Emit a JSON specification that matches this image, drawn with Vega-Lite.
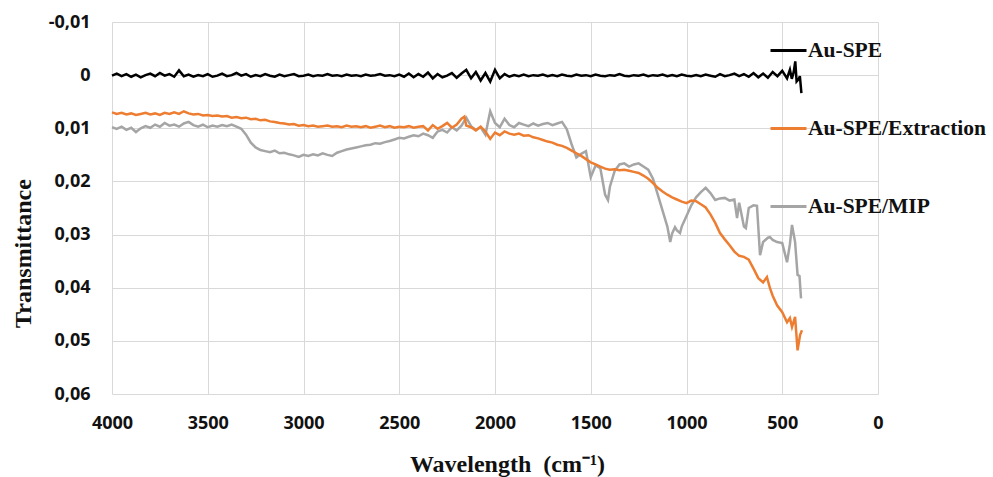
{
  "$schema": "https://vega.github.io/schema/vega-lite/v6.json",
  "autosize": {"type": "none"},
  "padding": {"left": 112, "top": 22, "right": 115, "bottom": 83},
  "width": 766,
  "height": 372,
  "background": "white",
  "config": {
    "view": {"stroke": null},
    "axis": {"grid": true, "gridColor": "#d9d9d9", "gridWidth": 1, "domain": false, "ticks": false,
      "labelFont": "Open Sans", "labelFontWeight": "bold", "labelFontSize": 18, "labelColor": "#111111", "labelFlush": false,
      "titleFont": "Liberation Serif", "titleFontWeight": "bold", "titleColor": "#111111"}
  },
  "datasets": {
    "spe": [
      {"w":4000,"t":0.0001},{"w":3975,"t":-0.0003},{"w":3950,"t":0.0002},{"w":3925,"t":-0.0002},{"w":3900,"t":0.0003},{"w":3875,"t":-0.0001},{"w":3850,"t":0.0004},{"w":3825,"t":0.0000},{"w":3800,"t":-0.0003},{"w":3775,"t":0.0002},{"w":3750,"t":-0.0004},{"w":3725,"t":0.0001},{"w":3700,"t":-0.0002},{"w":3675,"t":0.0003},{"w":3650,"t":-0.0009},{"w":3625,"t":0.0002},{"w":3600,"t":-0.0001},{"w":3575,"t":0.0003},{"w":3550,"t":0.0000},{"w":3525,"t":0.0002},{"w":3500,"t":-0.0002},{"w":3475,"t":0.0003},{"w":3450,"t":0.0001},{"w":3425,"t":-0.0003},{"w":3400,"t":0.0002},{"w":3375,"t":0.0000},{"w":3350,"t":-0.0004},{"w":3325,"t":0.0001},{"w":3300,"t":-0.0002},{"w":3275,"t":0.0003},{"w":3250,"t":0.0000},{"w":3225,"t":0.0002},{"w":3200,"t":-0.0002},{"w":3175,"t":0.0001},{"w":3150,"t":0.0003},{"w":3125,"t":-0.0001},{"w":3100,"t":0.0002},{"w":3075,"t":0.0000},{"w":3050,"t":-0.0002},{"w":3025,"t":0.0002},{"w":3000,"t":0.0001},{"w":2975,"t":-0.0001},{"w":2950,"t":0.0002},{"w":2925,"t":0.0000},{"w":2900,"t":0.0001},{"w":2875,"t":-0.0002},{"w":2850,"t":0.0001},{"w":2825,"t":0.0000},{"w":2800,"t":0.0002},{"w":2775,"t":-0.0001},{"w":2750,"t":0.0001},{"w":2725,"t":0.0000},{"w":2700,"t":0.0002},{"w":2675,"t":-0.0001},{"w":2650,"t":0.0001},{"w":2625,"t":0.0000},{"w":2600,"t":-0.0002},{"w":2575,"t":0.0001},{"w":2550,"t":0.0000},{"w":2525,"t":0.0002},{"w":2500,"t":-0.0001},{"w":2475,"t":0.0003},{"w":2450,"t":-0.0003},{"w":2425,"t":0.0004},{"w":2400,"t":-0.0002},{"w":2375,"t":0.0003},{"w":2350,"t":-0.0005},{"w":2325,"t":0.0006},{"w":2300,"t":-0.0002},{"w":2275,"t":0.0004},{"w":2250,"t":0.0001},{"w":2225,"t":-0.0004},{"w":2200,"t":0.0005},{"w":2175,"t":-0.0003},{"w":2150,"t":-0.0010},{"w":2125,"t":0.0006},{"w":2100,"t":-0.0006},{"w":2075,"t":0.0010},{"w":2050,"t":-0.0004},{"w":2025,"t":0.0012},{"w":2000,"t":-0.0010},{"w":1975,"t":0.0006},{"w":1950,"t":-0.0002},{"w":1925,"t":0.0003},{"w":1900,"t":0.0000},{"w":1875,"t":0.0002},{"w":1850,"t":-0.0001},{"w":1825,"t":0.0002},{"w":1800,"t":0.0000},{"w":1775,"t":0.0001},{"w":1750,"t":-0.0001},{"w":1725,"t":0.0002},{"w":1700,"t":0.0000},{"w":1675,"t":0.0002},{"w":1650,"t":-0.0001},{"w":1625,"t":0.0001},{"w":1600,"t":0.0002},{"w":1575,"t":-0.0001},{"w":1550,"t":0.0001},{"w":1525,"t":0.0000},{"w":1500,"t":0.0002},{"w":1475,"t":-0.0001},{"w":1450,"t":0.0001},{"w":1425,"t":0.0002},{"w":1400,"t":0.0000},{"w":1375,"t":0.0001},{"w":1350,"t":-0.0002},{"w":1325,"t":0.0001},{"w":1300,"t":0.0002},{"w":1275,"t":0.0000},{"w":1250,"t":0.0001},{"w":1225,"t":-0.0001},{"w":1200,"t":0.0002},{"w":1175,"t":0.0000},{"w":1150,"t":0.0001},{"w":1125,"t":-0.0001},{"w":1100,"t":0.0002},{"w":1075,"t":0.0000},{"w":1050,"t":0.0002},{"w":1025,"t":-0.0001},{"w":1000,"t":0.0001},{"w":975,"t":0.0002},{"w":950,"t":0.0000},{"w":925,"t":0.0002},{"w":900,"t":-0.0001},{"w":875,"t":0.0001},{"w":850,"t":0.0003},{"w":825,"t":-0.0002},{"w":800,"t":0.0002},{"w":775,"t":0.0000},{"w":750,"t":-0.0003},{"w":725,"t":0.0002},{"w":700,"t":-0.0002},{"w":675,"t":0.0003},{"w":650,"t":-0.0004},{"w":625,"t":0.0004},{"w":600,"t":-0.0003},{"w":575,"t":0.0005},{"w":550,"t":-0.0006},{"w":525,"t":0.0002},{"w":500,"t":-0.0008},{"w":475,"t":0.0006},{"w":460,"t":-0.0010},{"w":450,"t":0.0007},{"w":440,"t":-0.0006},{"w":432,"t":-0.0026},{"w":425,"t":0.0012},{"w":415,"t":0.0008},{"w":408,"t":0.0002},{"w":400,"t":0.0034}
    ],
    "ext": [
      {"w":4000,"t":0.0070},{"w":3975,"t":0.0073},{"w":3950,"t":0.0071},{"w":3925,"t":0.0074},{"w":3900,"t":0.0072},{"w":3875,"t":0.0075},{"w":3850,"t":0.0073},{"w":3825,"t":0.0071},{"w":3800,"t":0.0074},{"w":3775,"t":0.0072},{"w":3750,"t":0.0075},{"w":3725,"t":0.0071},{"w":3700,"t":0.0073},{"w":3675,"t":0.0070},{"w":3650,"t":0.0073},{"w":3625,"t":0.0068},{"w":3600,"t":0.0072},{"w":3575,"t":0.0074},{"w":3550,"t":0.0073},{"w":3525,"t":0.0076},{"w":3500,"t":0.0075},{"w":3475,"t":0.0077},{"w":3450,"t":0.0076},{"w":3425,"t":0.0078},{"w":3400,"t":0.0077},{"w":3375,"t":0.0080},{"w":3350,"t":0.0079},{"w":3325,"t":0.0081},{"w":3300,"t":0.0080},{"w":3275,"t":0.0083},{"w":3250,"t":0.0082},{"w":3225,"t":0.0085},{"w":3200,"t":0.0084},{"w":3175,"t":0.0087},{"w":3150,"t":0.0088},{"w":3125,"t":0.0090},{"w":3100,"t":0.0091},{"w":3075,"t":0.0093},{"w":3050,"t":0.0092},{"w":3025,"t":0.0095},{"w":3000,"t":0.0094},{"w":2975,"t":0.0096},{"w":2950,"t":0.0095},{"w":2925,"t":0.0097},{"w":2900,"t":0.0096},{"w":2875,"t":0.0095},{"w":2850,"t":0.0097},{"w":2825,"t":0.0096},{"w":2800,"t":0.0098},{"w":2775,"t":0.0095},{"w":2750,"t":0.0097},{"w":2725,"t":0.0096},{"w":2700,"t":0.0098},{"w":2675,"t":0.0096},{"w":2650,"t":0.0099},{"w":2625,"t":0.0097},{"w":2600,"t":0.0095},{"w":2575,"t":0.0098},{"w":2550,"t":0.0096},{"w":2525,"t":0.0099},{"w":2500,"t":0.0097},{"w":2475,"t":0.0098},{"w":2450,"t":0.0096},{"w":2425,"t":0.0099},{"w":2400,"t":0.0097},{"w":2375,"t":0.0096},{"w":2350,"t":0.0104},{"w":2325,"t":0.0094},{"w":2300,"t":0.0101},{"w":2275,"t":0.0096},{"w":2250,"t":0.0090},{"w":2225,"t":0.0099},{"w":2200,"t":0.0093},{"w":2175,"t":0.0082},{"w":2160,"t":0.0078},{"w":2150,"t":0.0095},{"w":2125,"t":0.0098},{"w":2100,"t":0.0104},{"w":2075,"t":0.0097},{"w":2050,"t":0.0106},{"w":2025,"t":0.0120},{"w":2000,"t":0.0108},{"w":1975,"t":0.0113},{"w":1950,"t":0.0106},{"w":1925,"t":0.0110},{"w":1900,"t":0.0112},{"w":1875,"t":0.0110},{"w":1850,"t":0.0114},{"w":1825,"t":0.0113},{"w":1800,"t":0.0117},{"w":1775,"t":0.0119},{"w":1750,"t":0.0122},{"w":1725,"t":0.0125},{"w":1700,"t":0.0127},{"w":1675,"t":0.0131},{"w":1650,"t":0.0133},{"w":1625,"t":0.0137},{"w":1600,"t":0.0142},{"w":1575,"t":0.0147},{"w":1550,"t":0.0152},{"w":1525,"t":0.0158},{"w":1500,"t":0.0164},{"w":1475,"t":0.0168},{"w":1450,"t":0.0172},{"w":1425,"t":0.0176},{"w":1400,"t":0.0178},{"w":1375,"t":0.0177},{"w":1350,"t":0.0179},{"w":1325,"t":0.0178},{"w":1300,"t":0.0180},{"w":1275,"t":0.0182},{"w":1250,"t":0.0184},{"w":1225,"t":0.0189},{"w":1200,"t":0.0195},{"w":1175,"t":0.0203},{"w":1150,"t":0.0212},{"w":1125,"t":0.0219},{"w":1100,"t":0.0225},{"w":1075,"t":0.0230},{"w":1050,"t":0.0234},{"w":1025,"t":0.0238},{"w":1000,"t":0.0241},{"w":975,"t":0.0236},{"w":950,"t":0.0237},{"w":925,"t":0.0243},{"w":900,"t":0.0249},{"w":875,"t":0.0262},{"w":850,"t":0.0278},{"w":825,"t":0.0297},{"w":800,"t":0.0309},{"w":775,"t":0.0320},{"w":750,"t":0.0332},{"w":725,"t":0.0340},{"w":700,"t":0.0342},{"w":675,"t":0.0347},{"w":650,"t":0.0364},{"w":625,"t":0.0382},{"w":600,"t":0.0390},{"w":580,"t":0.0380},{"w":564,"t":0.0401},{"w":550,"t":0.0415},{"w":527,"t":0.0433},{"w":500,"t":0.0446},{"w":475,"t":0.0465},{"w":460,"t":0.0457},{"w":449,"t":0.0474},{"w":433,"t":0.0455},{"w":420,"t":0.0518},{"w":407,"t":0.0489},{"w":397,"t":0.0480}
    ],
    "mip": [
      {"w":4000,"t":0.0098},{"w":3975,"t":0.0101},{"w":3950,"t":0.0097},{"w":3925,"t":0.0103},{"w":3900,"t":0.0099},{"w":3875,"t":0.0107},{"w":3850,"t":0.0100},{"w":3825,"t":0.0096},{"w":3800,"t":0.0099},{"w":3775,"t":0.0093},{"w":3750,"t":0.0097},{"w":3725,"t":0.0090},{"w":3700,"t":0.0095},{"w":3675,"t":0.0093},{"w":3650,"t":0.0097},{"w":3625,"t":0.0091},{"w":3600,"t":0.0088},{"w":3575,"t":0.0094},{"w":3550,"t":0.0097},{"w":3525,"t":0.0093},{"w":3500,"t":0.0098},{"w":3475,"t":0.0095},{"w":3450,"t":0.0097},{"w":3425,"t":0.0094},{"w":3400,"t":0.0096},{"w":3375,"t":0.0093},{"w":3350,"t":0.0097},{"w":3325,"t":0.0101},{"w":3300,"t":0.0112},{"w":3275,"t":0.0127},{"w":3250,"t":0.0136},{"w":3225,"t":0.0141},{"w":3200,"t":0.0143},{"w":3175,"t":0.0145},{"w":3150,"t":0.0142},{"w":3125,"t":0.0147},{"w":3100,"t":0.0146},{"w":3075,"t":0.0149},{"w":3050,"t":0.0151},{"w":3025,"t":0.0154},{"w":3000,"t":0.0150},{"w":2975,"t":0.0152},{"w":2950,"t":0.0149},{"w":2925,"t":0.0151},{"w":2900,"t":0.0147},{"w":2875,"t":0.0150},{"w":2850,"t":0.0152},{"w":2825,"t":0.0146},{"w":2800,"t":0.0143},{"w":2775,"t":0.0140},{"w":2750,"t":0.0138},{"w":2725,"t":0.0136},{"w":2700,"t":0.0134},{"w":2675,"t":0.0132},{"w":2650,"t":0.0131},{"w":2625,"t":0.0128},{"w":2600,"t":0.0129},{"w":2575,"t":0.0126},{"w":2550,"t":0.0124},{"w":2525,"t":0.0121},{"w":2500,"t":0.0118},{"w":2475,"t":0.0119},{"w":2450,"t":0.0116},{"w":2425,"t":0.0113},{"w":2400,"t":0.0115},{"w":2375,"t":0.0110},{"w":2350,"t":0.0113},{"w":2325,"t":0.0118},{"w":2300,"t":0.0106},{"w":2275,"t":0.0103},{"w":2250,"t":0.0108},{"w":2225,"t":0.0098},{"w":2200,"t":0.0104},{"w":2175,"t":0.0095},{"w":2150,"t":0.0080},{"w":2125,"t":0.0096},{"w":2100,"t":0.0103},{"w":2075,"t":0.0098},{"w":2050,"t":0.0112},{"w":2025,"t":0.0068},{"w":2000,"t":0.0090},{"w":1975,"t":0.0098},{"w":1950,"t":0.0082},{"w":1925,"t":0.0094},{"w":1900,"t":0.0098},{"w":1875,"t":0.0090},{"w":1850,"t":0.0093},{"w":1825,"t":0.0096},{"w":1800,"t":0.0091},{"w":1775,"t":0.0095},{"w":1750,"t":0.0092},{"w":1725,"t":0.0090},{"w":1700,"t":0.0094},{"w":1675,"t":0.0091},{"w":1650,"t":0.0088},{"w":1625,"t":0.0102},{"w":1600,"t":0.0130},{"w":1575,"t":0.0155},{"w":1550,"t":0.0148},{"w":1525,"t":0.0143},{"w":1500,"t":0.0192},{"w":1475,"t":0.0170},{"w":1450,"t":0.0175},{"w":1425,"t":0.0225},{"w":1410,"t":0.0235},{"w":1400,"t":0.0210},{"w":1375,"t":0.0180},{"w":1350,"t":0.0168},{"w":1325,"t":0.0166},{"w":1300,"t":0.0172},{"w":1275,"t":0.0168},{"w":1250,"t":0.0166},{"w":1225,"t":0.0172},{"w":1200,"t":0.0178},{"w":1175,"t":0.0195},{"w":1150,"t":0.0225},{"w":1125,"t":0.0255},{"w":1100,"t":0.0285},{"w":1085,"t":0.0314},{"w":1075,"t":0.0298},{"w":1060,"t":0.0286},{"w":1050,"t":0.0292},{"w":1034,"t":0.0297},{"w":1025,"t":0.0285},{"w":1000,"t":0.0265},{"w":975,"t":0.0245},{"w":950,"t":0.0230},{"w":925,"t":0.0220},{"w":900,"t":0.0212},{"w":875,"t":0.0222},{"w":850,"t":0.0235},{"w":825,"t":0.0232},{"w":800,"t":0.0231},{"w":775,"t":0.0236},{"w":750,"t":0.0234},{"w":736,"t":0.0269},{"w":725,"t":0.0240},{"w":700,"t":0.0285},{"w":690,"t":0.0288},{"w":675,"t":0.0250},{"w":650,"t":0.0245},{"w":632,"t":0.0246},{"w":616,"t":0.0339},{"w":600,"t":0.0314},{"w":575,"t":0.0306},{"w":564,"t":0.0305},{"w":550,"t":0.0310},{"w":527,"t":0.0314},{"w":500,"t":0.0316},{"w":475,"t":0.0352},{"w":460,"t":0.0318},{"w":449,"t":0.0282},{"w":433,"t":0.0314},{"w":420,"t":0.0376},{"w":410,"t":0.0378},{"w":402,"t":0.0420}
    ]
  },
  "encoding": {
    "x": {"field": "w", "type": "quantitative",
      "scale": {"domain": [0, 4000], "reverse": true, "zero": false, "nice": false},
      "axis": {"values": [0, 500, 1000, 1500, 2000, 2500, 3000, 3500, 4000], "format": "d", "labelPadding": 20,
        "title": "Wavelength\u00a0 (cm\u207b\u00b9)", "titleFontSize": 24, "titleBaseline": "alphabetic", "titleY": 77, "titleX": 395}},
    "y": {"field": "t", "type": "quantitative",
      "scale": {"domain": [-0.01, 0.06], "reverse": true, "zero": false, "nice": false},
      "axis": {"values": [-0.01, 0, 0.01, 0.02, 0.03, 0.04, 0.05, 0.06],
        "labelExpr": "datum.value == 0 ? '0' : (datum.value < 0 ? '-' : '') + replace(format(abs(datum.value), '.2f'), '.', ',')",
        "labelPadding": 22, "title": "Transmittance", "titleFontSize": 24, "titleAngle": -90, "titleBaseline": "alphabetic", "titleX": -82, "titleY": 231}},
    "color": {"scale": {"domain": ["Au-SPE", "Au-SPE/Extraction", "Au-SPE/MIP"], "range": ["#000000", "#ED7D31", "#A5A5A5"]},
      "legend": {"orient": "none", "legendX": 657, "legendY": 9, "title": null, "padding": 0,
        "symbolType": "stroke", "symbolSize": 1296, "symbolStrokeWidth": 3, "rowPadding": 48, "labelOffset": 0,
        "labelFont": "Liberation Serif", "labelFontWeight": "bold", "labelFontSize": 21.5, "labelColor": "#111111", "labelLimit": 300}}
  },
  "layer": [
    {"data": {"name": "mip"}, "mark": {"type": "line", "strokeWidth": 2.5}, "encoding": {"color": {"datum": "Au-SPE/MIP"}}},
    {"data": {"name": "ext"}, "mark": {"type": "line", "strokeWidth": 2.5}, "encoding": {"color": {"datum": "Au-SPE/Extraction"}}},
    {"data": {"name": "spe"}, "mark": {"type": "line", "strokeWidth": 2.5}, "encoding": {"color": {"datum": "Au-SPE"}}}
  ]
}
